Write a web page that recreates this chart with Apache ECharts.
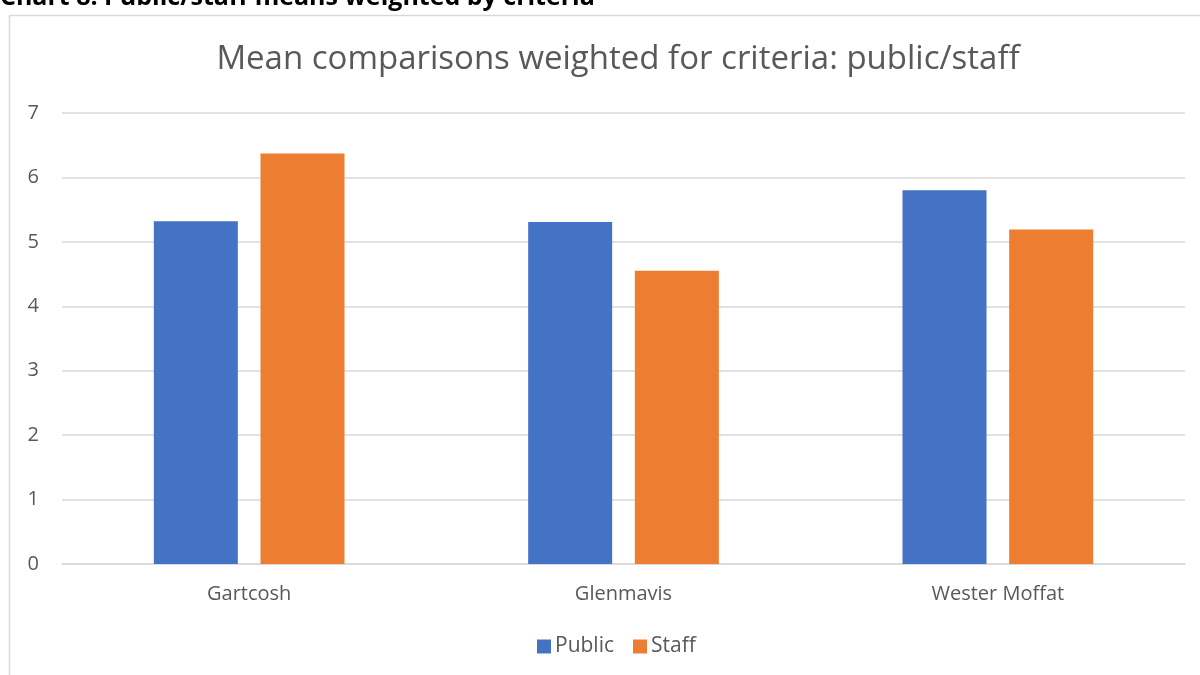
<!DOCTYPE html>
<html>
<head>
<meta charset="utf-8">
<script src="https://cdn.jsdelivr.net/npm/echarts@6/dist/echarts.min.js"></script>
<style>
	html, body { margin: 0; padding: 0; background: #fff; }
	#chart { width: 1200px; height: 675px; }
</style>
</head>
<body>
<div id="chart"></div>
<script>
	var categories = ["Gartcosh", "Glenmavis", "Wester Moffat"];
	var publicValues = [5.32, 5.31, 5.80];
	var staffValues = [6.37, 4.55, 5.19];
	var seriesNames = ["Public", "Staff"];
	var yTicks = { min: 0, max: 7, interval: 1 };

	var font = "'Open Sans', sans-serif";
	var grey = "#595959";

	var myChart = echarts.init(document.getElementById("chart"));
	var option = {
		animation: false,
		backgroundColor: "#fff",
		textStyle: { fontFamily: font },
		title: {
			text: "Mean comparisons weighted for criteria: public/staff",
			left: 613,
			textAlign: "center",
			top: 38,
			textStyle: { fontSize: 33, fontWeight: "normal", color: grey, fontFamily: font }
		},
		graphic: [
			{
				type: "rect",
				shape: { x: 9.5, y: 15.5, width: 1300, height: 800 },
				style: { fill: "none", stroke: "#d9d9d9", lineWidth: 1.5 },
				silent: true
			},
			{
				type: "text",
				left: 0,
				top: -15,
				style: { text: "Chart 8: Public/staff means weighted by criteria", font: "bold 25px " + font, fill: "#000" }
			}
		],
		legend: {
			data: seriesNames,
			bottom: 13,
			left: 532,
			itemWidth: 14,
			itemHeight: 14,
			itemGap: 19,
			icon: "rect",
			textStyle: { fontSize: 21, color: grey, padding: [0, 0, 0, -1] }
		},
		grid: { left: 62, right: 15, top: 113, bottom: 111, containLabel: false },
		xAxis: [{
			type: "category",
			data: categories,
			axisTick: { show: false },
			axisLine: { lineStyle: { color: "#d9d9d9", width: 1.5 } },
			axisLabel: { fontSize: 20, color: grey, margin: 20 }
		}],
		yAxis: [{
			type: "value",
			min: yTicks.min,
			max: yTicks.max,
			interval: yTicks.interval,
			axisLine: { show: false },
			axisTick: { show: false },
			axisLabel: { fontSize: 20, color: grey, margin: 23 },
			splitLine: { lineStyle: { color: "#d9d9d9", width: 1.5 } }
		}],
		series: [
			{
				name: seriesNames[0],
				type: "bar",
				data: publicValues,
				barWidth: 84,
				barGap: "27%",
				itemStyle: { color: "#4472c4" }
			},
			{
				name: seriesNames[1],
				type: "bar",
				data: staffValues,
				barWidth: 84,
				itemStyle: { color: "#ed7d31" }
			}
		]
	};
	myChart.setOption(option);
</script>
</body>
</html>
